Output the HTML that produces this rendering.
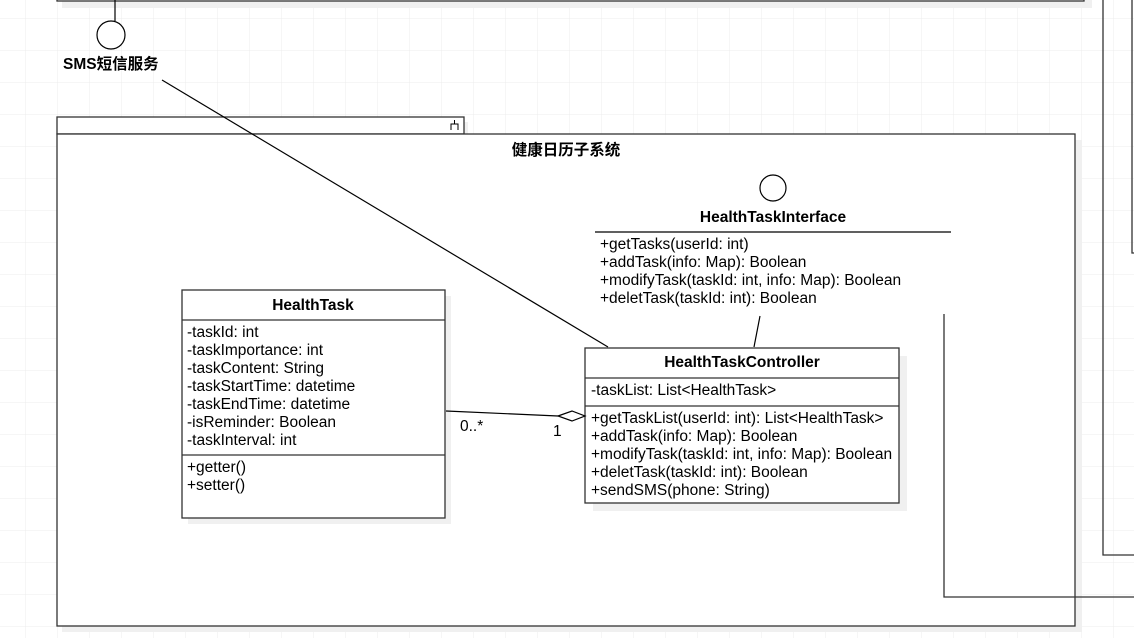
<!DOCTYPE html>
<html><head><meta charset="utf-8"><style>
html,body{margin:0;padding:0;background:#fff}
svg{display:block}
text{font-family:"Liberation Sans","Noto Sans CJK SC",sans-serif;font-size:15.5px;fill:#000}
.b{font-weight:bold}
</style></head><body>
<svg width="1134" height="638" viewBox="0 0 1134 638" xmlns="http://www.w3.org/2000/svg">
<defs><pattern id="g" x="25" y="18" width="32" height="32" patternUnits="userSpaceOnUse"><path d="M0 0H32M0 0V32" stroke="#ececec" stroke-width="1" fill="none"/></pattern></defs>
<rect width="1134" height="638" fill="url(#g)"/>
<rect x="62" y="-10" width="1030" height="18" fill="#f0f0f0"/>
<rect x="57" y="-12" width="1027" height="13" fill="#fff" stroke="#333" stroke-width="1.3"/>
<line x1="115" y1="0" x2="115" y2="21" stroke="#000" stroke-width="1.2"/>
<circle cx="111" cy="35" r="14" fill="#fff" stroke="#000" stroke-width="1.2"/>
<text x="63" y="69" class="b">SMS短信服务</text>
<path d="M1103 0V555H1134" fill="none" stroke="#333" stroke-width="1.3"/>
<path d="M1132 0V253H1134" fill="none" stroke="#333" stroke-width="1.3"/>
<rect x="62" y="122" width="406" height="18" fill="#f0f0f0"/>
<rect x="62" y="140" width="1020" height="492" fill="#f0f0f0"/>
<rect x="57" y="117" width="407" height="17" fill="#fff" stroke="#333" stroke-width="1.3"/>
<path d="M451 130V124H458V130M454.5 124V120" fill="none" stroke="#000" stroke-width="1"/>
<rect x="57" y="134" width="1018" height="492" fill="#fff" stroke="#333" stroke-width="1.3"/>
<text x="566" y="155" class="b" text-anchor="middle">健康日历子系统</text>
<line x1="162" y1="80" x2="608" y2="347" stroke="#000" stroke-width="1.2"/>
<circle cx="773" cy="188" r="13" fill="#fff" stroke="#000" stroke-width="1.2"/>
<text x="773" y="222" class="b" text-anchor="middle">HealthTaskInterface</text>
<line x1="595" y1="232" x2="951" y2="232" stroke="#000" stroke-width="1.2"/>
<text x="600" y="249">+getTasks(userId: int)</text>
<text x="600" y="267">+addTask(info: Map): Boolean</text>
<text x="600" y="285">+modifyTask(taskId: int, info: Map): Boolean</text>
<text x="600" y="303">+deletTask(taskId: int): Boolean</text>
<line x1="760" y1="316" x2="754" y2="347" stroke="#000" stroke-width="1.2"/>
<path d="M944 314V597H1134" fill="none" stroke="#333" stroke-width="1.3"/>
<rect x="188" y="296" width="263" height="228" fill="#f0f0f0"/>
<rect x="182" y="290" width="263" height="228" fill="#fff" stroke="#333" stroke-width="1.3"/>
<line x1="182" y1="320" x2="445" y2="320" stroke="#333" stroke-width="1.2"/>
<line x1="182" y1="455" x2="445" y2="455" stroke="#333" stroke-width="1.2"/>
<text x="313" y="310" class="b" text-anchor="middle">HealthTask</text>
<text x="187" y="337">-taskId: int</text>
<text x="187" y="355">-taskImportance: int</text>
<text x="187" y="373">-taskContent: String</text>
<text x="187" y="391">-taskStartTime: datetime</text>
<text x="187" y="409">-taskEndTime: datetime</text>
<text x="187" y="427">-isReminder: Boolean</text>
<text x="187" y="445">-taskInterval: int</text>
<text x="187" y="472">+getter()</text>
<text x="187" y="490">+setter()</text>
<rect x="593" y="356" width="314" height="155" fill="#f0f0f0"/>
<rect x="585" y="348" width="314" height="155" fill="#fff" stroke="#333" stroke-width="1.3"/>
<line x1="585" y1="378" x2="899" y2="378" stroke="#333" stroke-width="1.2"/>
<line x1="585" y1="406" x2="899" y2="406" stroke="#333" stroke-width="1.2"/>
<text x="742" y="367" class="b" text-anchor="middle">HealthTaskController</text>
<text x="591" y="395">-taskList: List&lt;HealthTask&gt;</text>
<text x="591" y="423">+getTaskList(userId: int): List&lt;HealthTask&gt;</text>
<text x="591" y="441">+addTask(info: Map): Boolean</text>
<text x="591" y="459">+modifyTask(taskId: int, info: Map): Boolean</text>
<text x="591" y="477">+deletTask(taskId: int): Boolean</text>
<text x="591" y="495">+sendSMS(phone: String)</text>
<line x1="446" y1="411" x2="558" y2="416" stroke="#000" stroke-width="1.2"/>
<path d="M558 416L572 411L585 416L572 421Z" fill="#fff" stroke="#000" stroke-width="1.2"/>
<text x="460" y="431">0..*</text>
<text x="553" y="436">1</text>
</svg>
</body></html>
